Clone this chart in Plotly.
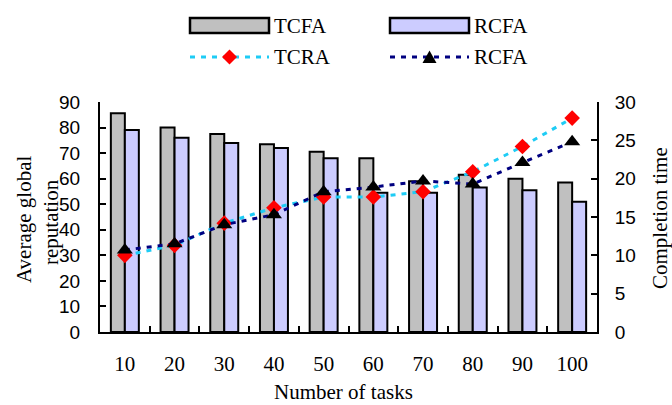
import plotly.graph_objects as go

categories = ["10", "20", "30", "40", "50", "60", "70", "80", "90", "100"]
tcfa_rep = [85.6, 80.0, 77.5, 73.5, 70.5, 68.0, 59.0, 61.5, 60.0, 58.5]
rcfa_rep = [79.0, 76.0, 74.0, 72.0, 68.0, 54.5, 54.5, 56.5, 55.5, 51.0]
tcra_time = [10.0, 11.3, 14.2, 16.2, 17.6, 17.6, 18.3, 20.9, 24.2, 27.9]
rcfa_time = [10.7, 11.5, 14.0, 15.3, 18.3, 18.9, 19.7, 19.3, 22.1, 24.8]

W, H = 672, 405
L, R, T, B = 100, 75, 102, 73
PW, PH = W - L - R, H - T - B

SERIF = "Liberation Serif, Times New Roman, serif"
SANS = "Liberation Sans, Arial, sans-serif"
GRAY = "#C0C0C0"
BLUE = "#CCCCFF"
CYAN = "#1ECCF5"
NAVY = "#000080"


def px(x):
    return (x - L) / PW


def py(y):
    return (T + PH - y) / PH


fig = go.Figure()
fig.add_trace(go.Bar(x=categories, y=tcfa_rep, name="TCFA", marker=dict(color=GRAY, line=dict(color="black", width=2)), showlegend=False))
fig.add_trace(go.Bar(x=categories, y=rcfa_rep, name="RCFA", marker=dict(color=BLUE, line=dict(color="black", width=2)), showlegend=False))
fig.add_trace(go.Scatter(x=categories, y=tcra_time, name="TCRA", yaxis="y2", mode="lines+markers",
                         line=dict(color=CYAN, width=3, dash="5px,6px"),
                         marker=dict(symbol="diamond", size=12, color="#FF0000"), showlegend=False))
fig.add_trace(go.Scatter(x=categories, y=rcfa_time, name="RCFA", yaxis="y2", mode="lines+markers",
                         line=dict(color=NAVY, width=3, dash="5px,6px"),
                         marker=dict(symbol="triangle-up", size=14, color="black"), showlegend=False))

axis_common = dict(showline=True, linecolor="black", linewidth=2, ticks="inside", ticklen=6,
                   tickcolor="black", tickwidth=2, showgrid=False, zeroline=False)

fig.update_layout(
    width=W, height=H,
    margin=dict(l=L, r=R, t=T, b=B),
    paper_bgcolor="white", plot_bgcolor="white",
    barmode="group", bargap=0.437, bargroupgap=0,
    xaxis=dict(type="category", categoryorder="array", categoryarray=categories,
               range=[-0.5, len(categories) - 0.5],
               tickson="boundaries", tickfont=dict(family=SERIF, size=21, color="black"),
               ticklabelstandoff=12, **axis_common),
    yaxis=dict(range=[0, 90], dtick=10, tick0=0, tickfont=dict(family=SANS, size=19, color="black"),
               ticklabelstandoff=14, **axis_common),
    yaxis2=dict(range=[0, 30], dtick=5, tick0=0, overlaying="y", side="right",
                tickfont=dict(family=SANS, size=19, color="black"), ticklabelstandoff=12, **axis_common),
    showlegend=False,
)

# Axis titles
fig.add_annotation(text="Number of tasks", xref="paper", yref="paper", x=px(343), y=py(392),
                   xanchor="center", yanchor="middle", showarrow=False,
                   font=dict(family=SERIF, size=21, color="black"))
fig.add_annotation(text="Average global", xref="paper", yref="paper", x=px(24), y=py(220),
                   xanchor="center", yanchor="middle", showarrow=False, textangle=-90,
                   font=dict(family=SERIF, size=21, color="black"))
fig.add_annotation(text="reputation", xref="paper", yref="paper", x=px(51), y=py(222),
                   xanchor="center", yanchor="middle", showarrow=False, textangle=-90,
                   font=dict(family=SERIF, size=21, color="black"))
fig.add_annotation(text="Completion time", xref="paper", yref="paper", x=px(660), y=py(218),
                   xanchor="center", yanchor="middle", showarrow=False, textangle=-90,
                   font=dict(family=SERIF, size=21, color="black"))

# Custom legend
shapes = []
for x0, color in [(190, GRAY), (390, BLUE)]:
    shapes.append(dict(type="rect", xref="paper", yref="paper", x0=px(x0), x1=px(x0 + 79),
                       y0=py(33), y1=py(18), fillcolor=color, line=dict(color="black", width=2.5)))
for x0, color in [(190, CYAN), (390, NAVY)]:
    shapes.append(dict(type="line", xref="paper", yref="paper", x0=px(x0), x1=px(x0 + 79),
                       y0=py(57), y1=py(57), line=dict(color=color, width=3, dash="5px,6px")))
cx, cy, r = 229.5, 57, 7.5
shapes.append(dict(type="path", xref="paper", yref="paper",
                   path=f"M {px(cx - r)} {py(cy)} L {px(cx)} {py(cy - r)} L {px(cx + r)} {py(cy)} L {px(cx)} {py(cy + r)} Z",
                   fillcolor="#FF0000", line=dict(width=0)))
cx, cy = 429.5, 57
shapes.append(dict(type="path", xref="paper", yref="paper",
                   path=f"M {px(cx - 7)} {py(cy + 6)} L {px(cx + 7)} {py(cy + 6)} L {px(cx)} {py(cy - 6.5)} Z",
                   fillcolor="black", line=dict(width=0)))
fig.update_layout(shapes=shapes)

for x0, y0, label in [(273, 25.5, "TCFA"), (473, 25.5, "RCFA"), (273, 57, "TCRA"), (473, 57, "RCFA")]:
    fig.add_annotation(text=label, xref="paper", yref="paper", x=px(x0), y=py(y0),
                       xanchor="left", yanchor="middle", showarrow=False, xshift=-1,
                       font=dict(family=SERIF, size=21, color="black"))

fig.write_html("out.html")
